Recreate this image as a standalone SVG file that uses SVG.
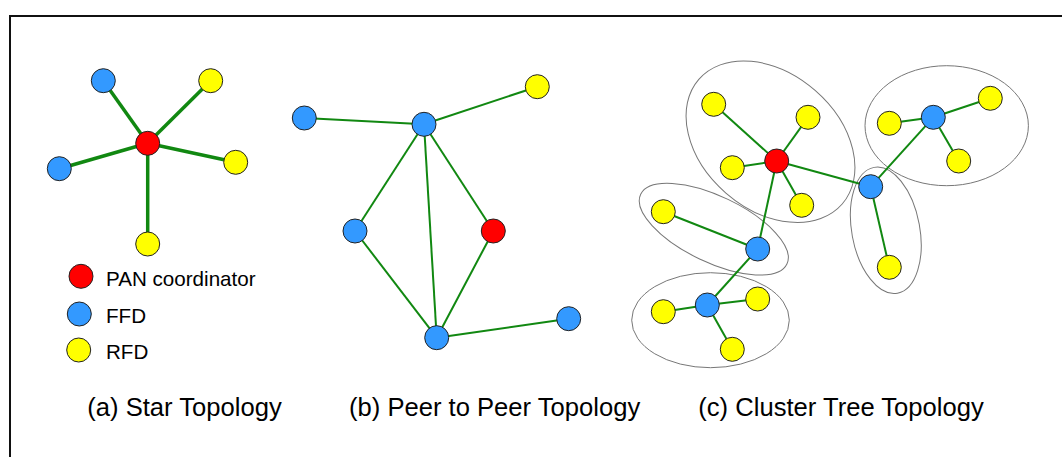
<svg xmlns="http://www.w3.org/2000/svg" width="1062" height="457" viewBox="0 0 1062 457">
  <style>
    .bg { fill: #ffffff; }
    .frame { fill: none; stroke: #111111; stroke-width: 2; }
    .node { stroke: #222222; stroke-width: 1; }
    .pan { fill: #ff0000; }
    .ffd { fill: #3399ff; }
    .rfd { fill: #ffff00; }
    .link { stroke: #118811; stroke-width: 2; fill: none; }
    .link-thick { stroke: #118811; stroke-width: 3.5; fill: none; }
    .cluster { fill: none; stroke: #777777; stroke-width: 1; }
    .legend { font-family: "Liberation Sans", Arial, sans-serif; font-size: 20.6px; fill: #000000; }
    .title { font-family: "Liberation Sans", Arial, sans-serif; font-size: 25.6px; fill: #000000; }
  </style>

  <rect class="bg" x="0" y="0" width="1062" height="457"/>
  <path class="frame" d="M10,457 V16 H1062"/>

  <!-- cluster outlines -->
  <g id="clusters">
    <ellipse class="cluster" cx="770.5" cy="141.7" rx="95" ry="68" transform="rotate(41 770.5 141.7)"/>
    <ellipse class="cluster" cx="946.7" cy="125.7" rx="81.7" ry="60"/>
    <ellipse class="cluster" cx="885.8" cy="230.3" rx="64" ry="34" transform="rotate(79.5 885.8 230.3)"/>
    <ellipse class="cluster" cx="713.8" cy="229.2" rx="81" ry="33" transform="rotate(25.5 713.8 229.2)"/>
    <ellipse class="cluster" cx="710.5" cy="320.2" rx="78.8" ry="47.5"/>
  </g>

  <!-- connectors -->
  <g id="connectors">
    <!-- star -->
    <line class="link-thick" x1="147.7" y1="143.3" x2="103.3" y2="80.7"/>
    <line class="link-thick" x1="147.7" y1="143.3" x2="210.7" y2="80.7"/>
    <line class="link-thick" x1="147.7" y1="143.3" x2="59.3" y2="168.7"/>
    <line class="link-thick" x1="147.7" y1="143.3" x2="235.7" y2="162.3"/>
    <line class="link-thick" x1="147.7" y1="143.3" x2="147.7" y2="244"/>
    <!-- peer to peer -->
    <line class="link" x1="304.3" y1="118" x2="424" y2="124.3"/>
    <line class="link" x1="424" y1="124.3" x2="537.3" y2="86.7"/>
    <line class="link" x1="424" y1="124.3" x2="355" y2="231"/>
    <line class="link" x1="424" y1="124.3" x2="436.7" y2="337.7"/>
    <line class="link" x1="424" y1="124.3" x2="493.3" y2="231"/>
    <line class="link" x1="355" y1="231" x2="436.7" y2="337.7"/>
    <line class="link" x1="493.3" y1="231" x2="436.7" y2="337.7"/>
    <line class="link" x1="436.7" y1="337.7" x2="568.7" y2="318.7"/>
    <!-- cluster tree -->
    <line class="link" x1="776.7" y1="161" x2="713.7" y2="104.3"/>
    <line class="link" x1="776.7" y1="161" x2="808" y2="117.3"/>
    <line class="link" x1="776.7" y1="161" x2="732.3" y2="167.7"/>
    <line class="link" x1="776.7" y1="161" x2="801.7" y2="205.3"/>
    <line class="link" x1="776.7" y1="161" x2="870.7" y2="186.7"/>
    <line class="link" x1="776.7" y1="161" x2="757.7" y2="249"/>
    <line class="link" x1="870.7" y1="186.7" x2="933.3" y2="117.3"/>
    <line class="link" x1="870.7" y1="186.7" x2="889.3" y2="267.3"/>
    <line class="link" x1="933.3" y1="117.3" x2="889.3" y2="123.3"/>
    <line class="link" x1="933.3" y1="117.3" x2="990.3" y2="98.3"/>
    <line class="link" x1="933.3" y1="117.3" x2="958.7" y2="161"/>
    <line class="link" x1="757.7" y1="249" x2="663.3" y2="211.7"/>
    <line class="link" x1="757.7" y1="249" x2="707.3" y2="305"/>
    <line class="link" x1="707.3" y1="305" x2="663.3" y2="311.7"/>
    <line class="link" x1="707.3" y1="305" x2="757.7" y2="299"/>
    <line class="link" x1="707.3" y1="305" x2="732.3" y2="349.3"/>
  </g>

  <!-- (a) star topology -->
  <g id="star-pan"><circle class="node pan" cx="147.7" cy="143.3" r="12"/></g>
  <g id="star-ffd-1"><circle class="node ffd" cx="103.3" cy="80.7" r="12"/></g>
  <g id="star-ffd-2"><circle class="node ffd" cx="59.3" cy="168.7" r="12"/></g>
  <g id="star-rfd-1"><circle class="node rfd" cx="210.7" cy="80.7" r="12"/></g>
  <g id="star-rfd-2"><circle class="node rfd" cx="235.7" cy="162.3" r="12"/></g>
  <g id="star-rfd-3"><circle class="node rfd" cx="147.7" cy="244" r="12"/></g>

  <!-- legend -->
  <g id="legend-pan">
    <circle class="node pan" cx="81" cy="276.3" r="12"/>
    <text class="legend" x="106" y="286">PAN coordinator</text>
  </g>
  <g id="legend-ffd">
    <circle class="node ffd" cx="79.3" cy="314" r="12"/>
    <text class="legend" x="106" y="322.5">FFD</text>
  </g>
  <g id="legend-rfd">
    <circle class="node rfd" cx="78.7" cy="350" r="12"/>
    <text class="legend" x="106" y="358.5">RFD</text>
  </g>

  <!-- (b) peer to peer topology -->
  <g id="p2p-ffd-1"><circle class="node ffd" cx="304.3" cy="118" r="12"/></g>
  <g id="p2p-ffd-2"><circle class="node ffd" cx="424" cy="124.3" r="12"/></g>
  <g id="p2p-rfd-1"><circle class="node rfd" cx="537.3" cy="86.7" r="12"/></g>
  <g id="p2p-ffd-3"><circle class="node ffd" cx="355" cy="231" r="12"/></g>
  <g id="p2p-pan"><circle class="node pan" cx="493.3" cy="231" r="12"/></g>
  <g id="p2p-ffd-4"><circle class="node ffd" cx="436.7" cy="337.7" r="12"/></g>
  <g id="p2p-ffd-5"><circle class="node ffd" cx="568.7" cy="318.7" r="12"/></g>

  <!-- (c) cluster tree topology -->
  <g id="ct-pan"><circle class="node pan" cx="776.7" cy="161" r="12"/></g>
  <g id="ct-rfd-1"><circle class="node rfd" cx="713.7" cy="104.3" r="12"/></g>
  <g id="ct-rfd-2"><circle class="node rfd" cx="808" cy="117.3" r="12"/></g>
  <g id="ct-rfd-3"><circle class="node rfd" cx="732.3" cy="167.7" r="12"/></g>
  <g id="ct-rfd-4"><circle class="node rfd" cx="801.7" cy="205.3" r="12"/></g>
  <g id="ct-ffd-hub"><circle class="node ffd" cx="870.7" cy="186.7" r="12"/></g>
  <g id="ct-ffd-ne"><circle class="node ffd" cx="933.3" cy="117.3" r="12"/></g>
  <g id="ct-rfd-5"><circle class="node rfd" cx="889.3" cy="123.3" r="12"/></g>
  <g id="ct-rfd-6"><circle class="node rfd" cx="990.3" cy="98.3" r="12"/></g>
  <g id="ct-rfd-7"><circle class="node rfd" cx="958.7" cy="161" r="12"/></g>
  <g id="ct-rfd-8"><circle class="node rfd" cx="889.3" cy="267.3" r="12"/></g>
  <g id="ct-ffd-w"><circle class="node ffd" cx="757.7" cy="249" r="12"/></g>
  <g id="ct-rfd-9"><circle class="node rfd" cx="663.3" cy="211.7" r="12"/></g>
  <g id="ct-ffd-sw"><circle class="node ffd" cx="707.3" cy="305" r="12"/></g>
  <g id="ct-rfd-10"><circle class="node rfd" cx="663.3" cy="311.7" r="12"/></g>
  <g id="ct-rfd-11"><circle class="node rfd" cx="757.7" cy="299" r="12"/></g>
  <g id="ct-rfd-12"><circle class="node rfd" cx="732.3" cy="349.3" r="12"/></g>

  <!-- captions -->
  <g id="captions">
    <text class="title" x="87.3" y="415.7">(a) Star Topology</text>
    <text class="title" x="349" y="415.5">(b) Peer to Peer Topology</text>
    <text class="title" x="698.3" y="415.7">(c) Cluster Tree Topology</text>
  </g>
</svg>
